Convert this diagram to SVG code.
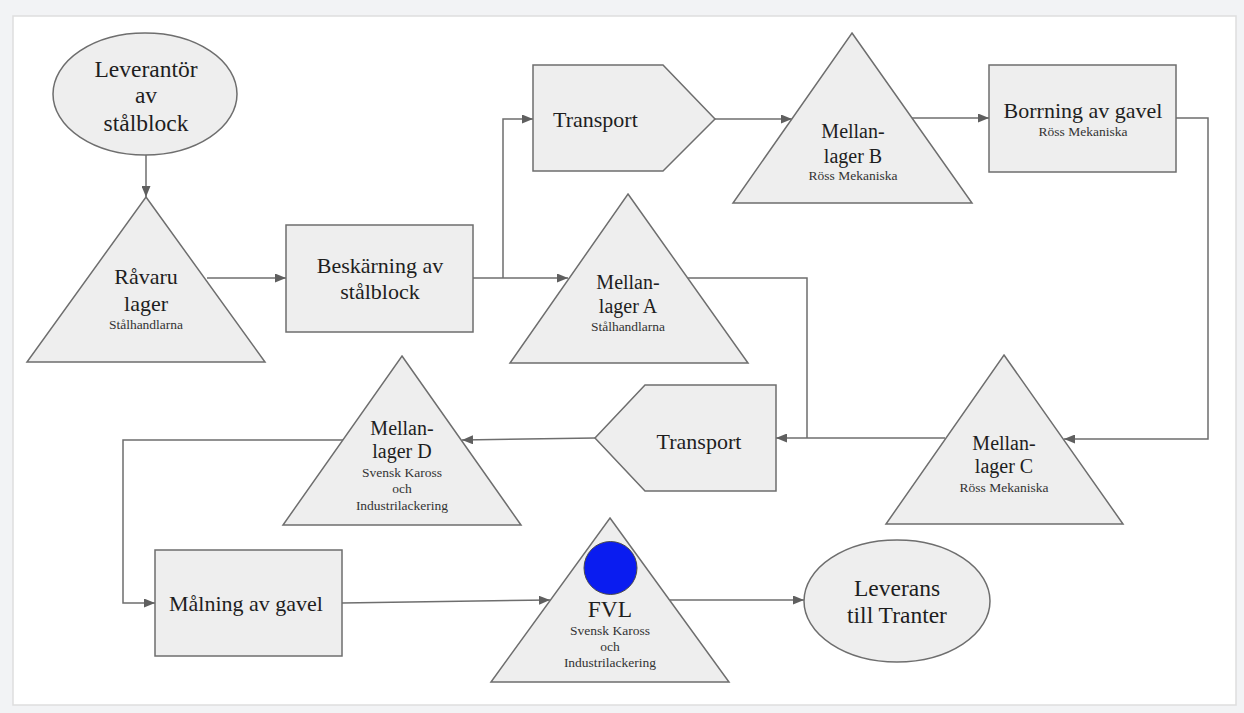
<svg xmlns="http://www.w3.org/2000/svg" width="1244" height="713" viewBox="0 0 1244 713">
  <defs>
    <marker id="arrow" markerUnits="userSpaceOnUse" markerWidth="12" markerHeight="9" refX="11" refY="4.5" orient="auto">
      <path d="M0,0 L11,4.5 L0,9 z" fill="#5f5f5f"/>
    </marker>
  </defs>
  <style>
    .shape { fill: #eeeeee; stroke: #6e6e6e; stroke-width: 1.5; }
    .edge { fill: none; stroke: #6e6e6e; stroke-width: 1.5; }
    text { font-family: "Liberation Serif", "Times New Roman", serif; fill: #1e1e1e; text-anchor: middle; }
    .big { font-size: 22px; }
    .mid { font-size: 20px; }
    .oval { font-size: 23.5px; }
    .small { font-size: 13.5px; fill: #333333; }
  </style>

  <!-- page background and card -->
  <rect x="0" y="0" width="1244" height="713" fill="#f2f3f5"/>
  <rect x="13" y="16" width="1223" height="689" fill="#ffffff" stroke="#dedede" stroke-width="1.5"/>

  <!-- connectors -->
  <g id="connectors">
    <path class="edge" d="M146,155 L146,197" marker-end="url(#arrow)"/>
    <path class="edge" d="M207,278 L286,278" marker-end="url(#arrow)"/>
    <path class="edge" d="M473,278 L568,278" marker-end="url(#arrow)"/>
    <path class="edge" d="M503,278 L503,119 L533,119" marker-end="url(#arrow)"/>
    <path class="edge" d="M715,119 L792,119" marker-end="url(#arrow)"/>
    <path class="edge" d="M912,118 L989,118" marker-end="url(#arrow)"/>
    <path class="edge" d="M1176,118 L1208,118 L1208,439 L1064,439" marker-end="url(#arrow)"/>
    <path class="edge" d="M945,438 L776,438" marker-end="url(#arrow)"/>
    <path class="edge" d="M688,278 L807,278 L807,438"/>
    <path class="edge" d="M595,438 L462,440" marker-end="url(#arrow)"/>
    <path class="edge" d="M343,440 L123,440 L123,603 L155,603" marker-end="url(#arrow)"/>
    <path class="edge" d="M342,603 L550,600" marker-end="url(#arrow)"/>
    <path class="edge" d="M670,600 L804,600" marker-end="url(#arrow)"/>
  </g>

  <g id="leverantor">
    <ellipse class="shape" cx="145" cy="94" rx="92" ry="61"/>
    <text class="oval" x="146" y="77">Leverantör</text>
    <text class="oval" x="146" y="103">av</text>
    <text class="oval" x="146" y="131">stålblock</text>
  </g>

  <g id="ravarulager">
    <polygon class="shape" points="146,197 265,362 27,362"/>
    <text class="big" x="146" y="284">Råvaru</text>
    <text class="big" x="146" y="311">lager</text>
    <text class="small" x="146" y="329">Stålhandlarna</text>
  </g>

  <g id="beskarning">
    <rect class="shape" x="286" y="225" width="187" height="107"/>
    <text class="big" x="380" y="273">Beskärning av</text>
    <text class="big" x="380" y="299">stålblock</text>
  </g>

  <g id="transport-1">
    <polygon class="shape" points="533,65 663,65 715,119 663,171 533,171"/>
    <text class="big" x="553" y="127" style="text-anchor:start">Transport</text>
  </g>

  <g id="mellanlager-a">
    <polygon class="shape" points="628,194 748,363 510,363"/>
    <text class="mid" x="628" y="289">Mellan-</text>
    <text class="mid" x="628" y="313">lager A</text>
    <text class="small" x="628" y="331">Stålhandlarna</text>
  </g>

  <g id="mellanlager-b">
    <polygon class="shape" points="852,33 972,203 733,203"/>
    <text class="mid" x="853" y="138">Mellan-</text>
    <text class="mid" x="853" y="163">lager B</text>
    <text class="small" x="853" y="180">Röss Mekaniska</text>
  </g>

  <g id="borrning">
    <rect class="shape" x="989" y="65" width="187" height="107"/>
    <text class="big" x="1083" y="118">Borrning av gavel</text>
    <text class="small" x="1083" y="136">Röss Mekaniska</text>
  </g>

  <g id="mellanlager-c">
    <polygon class="shape" points="1004,355 1123,524 886,524"/>
    <text class="mid" x="1004" y="450">Mellan-</text>
    <text class="mid" x="1004" y="473">lager C</text>
    <text class="small" x="1004" y="492">Röss Mekaniska</text>
  </g>

  <g id="transport-2">
    <polygon class="shape" points="776,385 645,385 595,438 645,491 776,491"/>
    <text class="big" x="699" y="449">Transport</text>
  </g>

  <g id="mellanlager-d">
    <polygon class="shape" points="402,356 521,525 283,525"/>
    <text class="mid" x="402" y="435">Mellan-</text>
    <text class="mid" x="402" y="458">lager D</text>
    <text class="small" x="402" y="477">Svensk Kaross</text>
    <text class="small" x="402" y="493">och</text>
    <text class="small" x="402" y="510">Industrilackering</text>
  </g>

  <g id="malning">
    <rect class="shape" x="155" y="550" width="187" height="106"/>
    <text class="big" x="246" y="611">Målning av gavel</text>
  </g>

  <g id="fvl">
    <polygon class="shape" points="610,518 729,682 491,682"/>
    <circle cx="610.5" cy="568" r="26.5" fill="#0a1cf0" stroke="#4a4a4a" stroke-width="1"/>
    <text class="oval" x="610" y="617">FVL</text>
    <text class="small" x="610" y="635">Svensk Kaross</text>
    <text class="small" x="610" y="651">och</text>
    <text class="small" x="610" y="667">Industrilackering</text>
  </g>

  <g id="leverans">
    <ellipse class="shape" cx="897" cy="601" rx="93" ry="61"/>
    <text class="oval" x="897" y="596">Leverans</text>
    <text class="oval" x="897" y="623">till Tranter</text>
  </g>
</svg>
